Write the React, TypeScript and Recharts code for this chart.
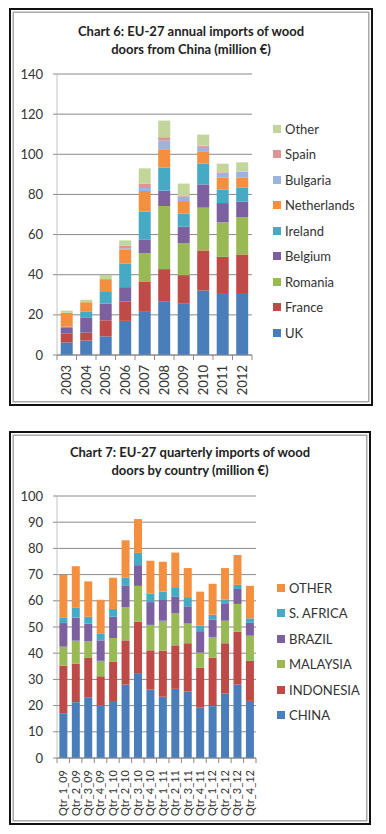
import { BarChart, Bar, XAxis, YAxis, CartesianGrid } from "recharts";

// Chart 6: annual imports from China, million €
const years = ["2003", "2004", "2005", "2006", "2007", "2008", "2009", "2010", "2011", "2012"];
const uk = [6.3, 7.2, 9.3, 17.0, 21.5, 26.8, 25.8, 32.1, 30.9, 30.9];
const france = [4.3, 3.9, 8.0, 9.6, 14.9, 16.0, 14.0, 20.0, 18.0, 19.2];
const romania = [0, 0, 0, 0, 14.3, 31.4, 15.9, 21.3, 17.2, 18.6];
const belgium = [2.9, 7.4, 8.3, 7.2, 6.9, 7.7, 8.2, 11.6, 9.6, 7.7];
const ireland = [0.6, 3.0, 6.2, 11.8, 13.8, 11.4, 6.6, 10.3, 6.8, 7.1];
const netherlands = [6.9, 4.8, 6.0, 6.8, 10.3, 9.2, 6.2, 6.2, 6.0, 5.0];
const bulgaria = [0, 0, 0, 0.8, 1.5, 4.3, 2.2, 2.2, 2.2, 2.8];
const spain = [0, 0, 0, 1.2, 2.2, 1.7, 0.6, 0.6, 0.3, 0];
const otherAnnual = [1.1, 1.2, 2.1, 2.7, 7.6, 8.3, 5.9, 5.5, 4.3, 4.7];
const annualTicks = [0, 20, 40, 60, 80, 100, 120, 140];

// Chart 7: quarterly imports by country, million €
const quarters = [
  "Qtr_1_09", "Qtr_2_09", "Qtr_3_09", "Qtr_4_09",
  "Qtr_1_10", "Qtr_2_10", "Qtr_3_10", "Qtr_4_10",
  "Qtr_1_11", "Qtr_2_11", "Qtr_3_11", "Qtr_4_11",
  "Qtr_1_12", "Qtr_2_12", "Qtr_3_12", "Qtr_4_12",
];
const china = [17.1, 21.3, 23.2, 20.2, 21.4, 28.0, 32.4, 26.1, 23.4, 26.4, 25.4, 19.2, 19.8, 24.6, 28.0, 21.8];
const indonesia = [18.1, 14.7, 15.0, 11.0, 15.3, 16.9, 19.6, 15.0, 17.6, 16.6, 18.4, 15.2, 18.5, 19.2, 20.2, 15.3];
const malaysia = [7.3, 8.8, 6.3, 5.9, 9.1, 12.6, 13.7, 9.7, 11.4, 12.2, 7.5, 5.8, 7.9, 8.6, 10.6, 9.6];
const brazil = [9.0, 8.8, 6.8, 7.8, 8.1, 8.2, 7.9, 8.7, 7.9, 6.3, 6.6, 8.2, 6.7, 6.4, 5.7, 4.9];
const sAfrica = [2.2, 3.9, 2.6, 2.7, 3.0, 3.2, 4.7, 3.2, 3.2, 3.7, 3.5, 2.2, 1.8, 1.6, 1.6, 1.7];
const otherQuarterly = [16.2, 15.7, 13.5, 12.8, 11.9, 14.2, 12.9, 12.6, 11.4, 13.2, 11.1, 12.9, 11.8, 12.1, 11.4, 12.4];
const quarterlyTicks = [0, 10, 20, 30, 40, 50, 60, 70, 80, 90, 100];

const annualSeries = [
  { name: "UK", values: uk, color: "#4A7EBB" },
  { name: "France", values: france, color: "#BE4B48" },
  { name: "Romania", values: romania, color: "#98B954" },
  { name: "Belgium", values: belgium, color: "#7D60A0" },
  { name: "Ireland", values: ireland, color: "#46AAC5" },
  { name: "Netherlands", values: netherlands, color: "#F38F3F" },
  { name: "Bulgaria", values: bulgaria, color: "#9DB3DC" },
  { name: "Spain", values: spain, color: "#DC9594" },
  { name: "Other", values: otherAnnual, color: "#C2D69B" },
];

const quarterlySeries = [
  { name: "CHINA", values: china, color: "#4A7EBB" },
  { name: "INDONESIA", values: indonesia, color: "#BE4B48" },
  { name: "MALAYSIA", values: malaysia, color: "#98B954" },
  { name: "BRAZIL", values: brazil, color: "#7D60A0" },
  { name: "S. AFRICA", values: sAfrica, color: "#46AAC5" },
  { name: "OTHER", values: otherQuarterly, color: "#F38F3F" },
];

const FONT = "Lato, 'Open Sans', sans-serif";
const GRID = "#8a8a8a";

function buildRows(cats: string[], series: { name: string; values: number[] }[]) {
  return cats.map((c, i) => {
    const row: Record<string, string | number> = { cat: c };
    series.forEach((s) => (row[s.name] = s.values[i]));
    return row;
  });
}

function makeTick(step: number, count: number, fontSize: number, gap: number) {
  return function Tick(props: any) {
    const { x, y, payload, index } = props;
    return (
      <g>
        <line x1={x - step / 2} x2={x - step / 2} y1={y} y2={y + 5} stroke={GRID} />
        {index === count - 1 && (
          <line x1={x + step / 2} x2={x + step / 2} y1={y} y2={y + 5} stroke={GRID} />
        )}
        <text
          transform={`translate(${x + fontSize * 0.36},${y + gap}) rotate(-90)`}
          textAnchor="end"
          fontSize={fontSize}
          fontFamily={FONT}
          fill="#333"
        >
          {payload.value}
        </text>
      </g>
    );
  };
}

function Box({ top, width, height }: { top: number; width: number; height: number }) {
  return (
    <div
      style={{
        position: "absolute",
        left: 1,
        top,
        width,
        height,
        boxSizing: "border-box",
        border: "2.5px solid #111",
        boxShadow: "inset 0 0 0 1.5px #fff, inset 0 0 0 3px #a8a8a8",
        background: "#fff",
      }}
    />
  );
}

function Title({ top, width, lines }: { top: number; width: number; lines: string[] }) {
  return (
    <div
      style={{
        position: "absolute",
        left: 1,
        top,
        width,
        textAlign: "center",
        fontFamily: FONT,
        fontWeight: 700,
        fontSize: 13,
        lineHeight: "18px",
        color: "#222",
      }}
    >
      {lines.map((l) => (
        <div key={l}>{l}</div>
      ))}
    </div>
  );
}

function LegendList({ left, top, items }: { left: number; top: number; items: { name: string; color: string }[] }) {
  return (
    <div style={{ position: "absolute", left, top, fontFamily: FONT, fontSize: 13, color: "#333" }}>
      {items.map((s) => (
        <div key={s.name} style={{ display: "flex", alignItems: "center", height: 25.5 }}>
          <span style={{ width: 8, height: 8, background: s.color, marginRight: 4, display: "inline-block" }} />
          <span>{s.name}</span>
        </div>
      ))}
    </div>
  );
}

export default function App() {
  const annualRows = buildRows(years, annualSeries);
  const quarterlyRows = buildRows(quarters, quarterlySeries);

  const w6 = 370;
  const m6 = { top: 66, right: 126, bottom: 23, left: 9 };
  const step6 = (w6 - m6.left - 40 - m6.right) / years.length;

  const w7 = 370;
  const m7 = { top: 65, right: 122, bottom: 23, left: 9 };
  const step7 = (w7 - m7.left - 40 - m7.right) / quarters.length;

  return (
    <div style={{ position: "relative", width: 370, height: 820 }}>
      <Box top={0} width={364} height={398} />
      <Title top={14} width={364} lines={["Chart 6: EU-27 annual imports of wood", "doors from China (million €)"]} />
      <div style={{ position: "absolute", left: 0, top: 0 }}>
        <BarChart width={w6} height={410} data={annualRows} margin={m6} barCategoryGap="19%">
          <CartesianGrid vertical={false} stroke={GRID} />
          <XAxis
            dataKey="cat"
            height={40}
            interval={0}
            tickSize={0}
            tickMargin={0}
            axisLine={{ stroke: GRID }}
            tick={makeTick(step6, years.length, 13, 10)}
          />
          <YAxis
            width={40}
            domain={[0, 140]}
            ticks={annualTicks}
            interval={0}
            tickSize={4}
            tickMargin={10}
            axisLine={{ stroke: "#c4c4c4" }}
            tickLine={{ stroke: GRID }}
            tick={{ fontSize: 13, fontFamily: FONT, fill: "#333" }}
          />
          {annualSeries.map((s) => (
            <Bar key={s.name} dataKey={s.name} stackId="a" fill={s.color} isAnimationActive={false} />
          ))}
        </BarChart>
      </div>
      <LegendList left={265} top={108} items={[...annualSeries].reverse()} />

      <Box top={423} width={362} height={394} />
      <Title top={435} width={362} lines={["Chart 7: EU-27 quarterly imports of wood", "doors by country (million €)"]} />
      <div style={{ position: "absolute", left: 0, top: 423 }}>
        <BarChart width={w7} height={400} data={quarterlyRows} margin={m7} barCategoryGap="19%">
          <CartesianGrid vertical={false} stroke={GRID} />
          <XAxis
            dataKey="cat"
            height={50}
            interval={0}
            tickSize={0}
            tickMargin={0}
            axisLine={{ stroke: GRID }}
            tick={makeTick(step7, quarters.length, 11, 12)}
          />
          <YAxis
            width={40}
            domain={[0, 100]}
            ticks={quarterlyTicks}
            interval={0}
            tickSize={4}
            tickMargin={10}
            axisLine={{ stroke: "#c4c4c4" }}
            tickLine={{ stroke: GRID }}
            tick={{ fontSize: 13, fontFamily: FONT, fill: "#333" }}
          />
          {quarterlySeries.map((s) => (
            <Bar key={s.name} dataKey={s.name} stackId="q" fill={s.color} isAnimationActive={false} />
          ))}
        </BarChart>
      </div>
      <LegendList left={269} top={567} items={[...quarterlySeries].reverse()} />
    </div>
  );
}
